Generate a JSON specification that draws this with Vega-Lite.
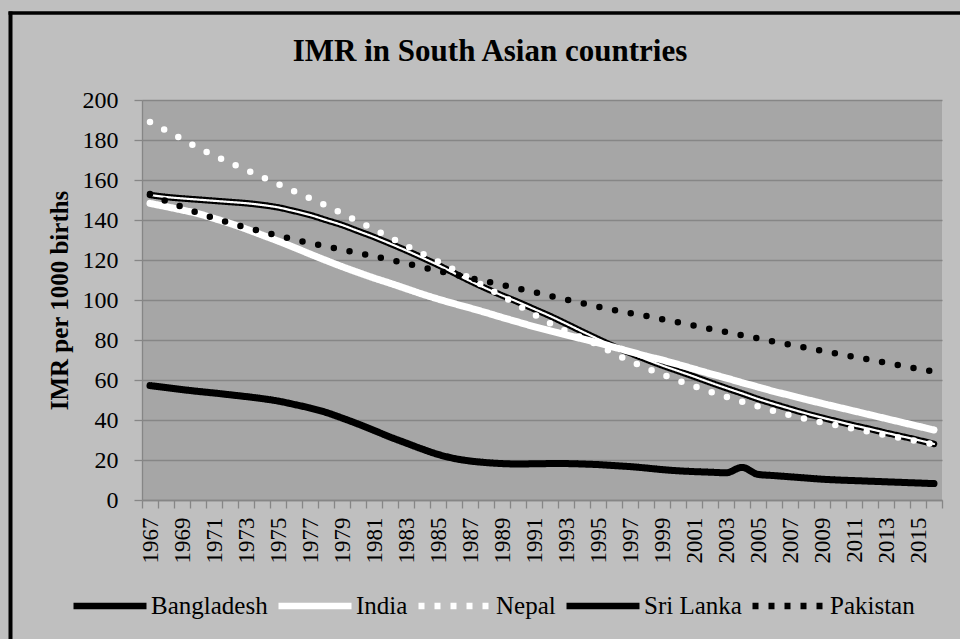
{
  "$schema": "https://vega.github.io/schema/vega-lite/v6.json",
  "autosize": {"type": "none"},
  "width": 800,
  "height": 400,
  "padding": {"left": 142, "top": 100, "right": 18, "bottom": 139},
  "background": "#bfbfbf",
  "config": {
    "font": "Liberation Serif",
    "view": {"fill": "#a6a6a6", "stroke": null},
    "axis": {"labelColor": "black", "titleColor": "black", "labelFont": "Liberation Serif", "titleFont": "Liberation Serif"}
  },
  "title": {"text": "IMR in South Asian countries", "font": "Liberation Serif", "fontSize": 31, "fontWeight": "bold", "color": "black", "anchor": "middle", "dx": -52, "offset": 22, "dy": 77},
  "data": {"values": [
    {"year": 1967, "Bangladesh": 152.5, "India": 148.3, "Nepal": 189, "Sri Lanka": 57.2, "Pakistan": 153},
    {"year": 1968, "Bangladesh": 151.5, "India": 146.7, "Nepal": 184.8, "Sri Lanka": 56.2, "Pakistan": 149.5},
    {"year": 1969, "Bangladesh": 150.8, "India": 145, "Nepal": 180.5, "Sri Lanka": 55.2, "Pakistan": 146.5},
    {"year": 1970, "Bangladesh": 150.2, "India": 143.2, "Nepal": 176.2, "Sri Lanka": 54.3, "Pakistan": 143.6},
    {"year": 1971, "Bangladesh": 149.6, "India": 140.8, "Nepal": 172.3, "Sri Lanka": 53.5, "Pakistan": 141},
    {"year": 1972, "Bangladesh": 149, "India": 138.3, "Nepal": 168.6, "Sri Lanka": 52.6, "Pakistan": 138.5},
    {"year": 1973, "Bangladesh": 148.4, "India": 135.5, "Nepal": 165, "Sri Lanka": 51.7, "Pakistan": 136.2},
    {"year": 1974, "Bangladesh": 147.5, "India": 132.5, "Nepal": 161.5, "Sri Lanka": 50.7, "Pakistan": 134.2},
    {"year": 1975, "Bangladesh": 146.3, "India": 129.5, "Nepal": 158, "Sri Lanka": 49.5, "Pakistan": 132.2},
    {"year": 1976, "Bangladesh": 144.5, "India": 126.3, "Nepal": 154.4, "Sri Lanka": 47.8, "Pakistan": 130.2},
    {"year": 1977, "Bangladesh": 142.5, "India": 123, "Nepal": 150.8, "Sri Lanka": 46, "Pakistan": 128.4},
    {"year": 1978, "Bangladesh": 140, "India": 119.8, "Nepal": 147.2, "Sri Lanka": 43.8, "Pakistan": 126.8},
    {"year": 1979, "Bangladesh": 137.5, "India": 116.7, "Nepal": 143.3, "Sri Lanka": 41, "Pakistan": 125.2},
    {"year": 1980, "Bangladesh": 134.5, "India": 113.8, "Nepal": 139.3, "Sri Lanka": 38, "Pakistan": 123.5},
    {"year": 1981, "Bangladesh": 131.5, "India": 111, "Nepal": 135.3, "Sri Lanka": 34.8, "Pakistan": 121.8},
    {"year": 1982, "Bangladesh": 128.2, "India": 108.4, "Nepal": 131.3, "Sri Lanka": 31.5, "Pakistan": 120.1},
    {"year": 1983, "Bangladesh": 124.8, "India": 105.7, "Nepal": 127.2, "Sri Lanka": 28.5, "Pakistan": 118.3},
    {"year": 1984, "Bangladesh": 121.2, "India": 103, "Nepal": 123.2, "Sri Lanka": 25.5, "Pakistan": 116.4},
    {"year": 1985, "Bangladesh": 117.5, "India": 100.5, "Nepal": 119.2, "Sri Lanka": 22.8, "Pakistan": 114.6},
    {"year": 1986, "Bangladesh": 113.5, "India": 98.2, "Nepal": 115.2, "Sri Lanka": 20.8, "Pakistan": 112.8},
    {"year": 1987, "Bangladesh": 109.5, "India": 96, "Nepal": 110.8, "Sri Lanka": 19.5, "Pakistan": 111},
    {"year": 1988, "Bangladesh": 105.8, "India": 93.7, "Nepal": 106.5, "Sri Lanka": 18.7, "Pakistan": 109.3},
    {"year": 1989, "Bangladesh": 102.3, "India": 91.3, "Nepal": 102, "Sri Lanka": 18.2, "Pakistan": 107.6},
    {"year": 1990, "Bangladesh": 99, "India": 89, "Nepal": 97.5, "Sri Lanka": 18, "Pakistan": 105.8},
    {"year": 1991, "Bangladesh": 95.5, "India": 86.7, "Nepal": 92.8, "Sri Lanka": 18.1, "Pakistan": 104},
    {"year": 1992, "Bangladesh": 92, "India": 84.6, "Nepal": 88.4, "Sri Lanka": 18.2, "Pakistan": 102.1},
    {"year": 1993, "Bangladesh": 88.2, "India": 82.6, "Nepal": 84.5, "Sri Lanka": 18.2, "Pakistan": 100.3},
    {"year": 1994, "Bangladesh": 84.3, "India": 80.6, "Nepal": 81.2, "Sri Lanka": 18, "Pakistan": 98.5},
    {"year": 1995, "Bangladesh": 80.5, "India": 78.6, "Nepal": 77.5, "Sri Lanka": 17.7, "Pakistan": 96.7},
    {"year": 1996, "Bangladesh": 76.8, "India": 76.4, "Nepal": 73.2, "Sri Lanka": 17.2, "Pakistan": 95},
    {"year": 1997, "Bangladesh": 73.5, "India": 74.2, "Nepal": 69.5, "Sri Lanka": 16.7, "Pakistan": 93.4},
    {"year": 1998, "Bangladesh": 70.3, "India": 72, "Nepal": 66, "Sri Lanka": 16, "Pakistan": 92},
    {"year": 1999, "Bangladesh": 67.3, "India": 70, "Nepal": 62.8, "Sri Lanka": 15.2, "Pakistan": 90.4},
    {"year": 2000, "Bangladesh": 64.5, "India": 67.8, "Nepal": 59.8, "Sri Lanka": 14.6, "Pakistan": 88.8},
    {"year": 2001, "Bangladesh": 61.7, "India": 65.5, "Nepal": 56.9, "Sri Lanka": 14.2, "Pakistan": 87.2},
    {"year": 2002, "Bangladesh": 58.8, "India": 63.2, "Nepal": 54.2, "Sri Lanka": 13.9, "Pakistan": 85.6},
    {"year": 2003, "Bangladesh": 56, "India": 61, "Nepal": 51.6, "Sri Lanka": 13.6, "Pakistan": 84},
    {"year": 2004, "Bangladesh": 53.3, "India": 58.7, "Nepal": 49.2, "Sri Lanka": 16.3, "Pakistan": 82.4},
    {"year": 2005, "Bangladesh": 50.5, "India": 56.5, "Nepal": 46.8, "Sri Lanka": 12.8, "Pakistan": 80.8},
    {"year": 2006, "Bangladesh": 48, "India": 54.3, "Nepal": 44.5, "Sri Lanka": 12.2, "Pakistan": 79.2},
    {"year": 2007, "Bangladesh": 45.6, "India": 52.3, "Nepal": 42.4, "Sri Lanka": 11.6, "Pakistan": 77.6},
    {"year": 2008, "Bangladesh": 43.3, "India": 50.3, "Nepal": 40.5, "Sri Lanka": 11, "Pakistan": 76.1},
    {"year": 2009, "Bangladesh": 41.2, "India": 48.3, "Nepal": 38.8, "Sri Lanka": 10.4, "Pakistan": 74.6},
    {"year": 2010, "Bangladesh": 39.2, "India": 46.4, "Nepal": 37.2, "Sri Lanka": 10, "Pakistan": 73.1},
    {"year": 2011, "Bangladesh": 37.3, "India": 44.5, "Nepal": 35.6, "Sri Lanka": 9.7, "Pakistan": 71.6},
    {"year": 2012, "Bangladesh": 35.5, "India": 42.6, "Nepal": 34, "Sri Lanka": 9.4, "Pakistan": 70.1},
    {"year": 2013, "Bangladesh": 33.6, "India": 40.7, "Nepal": 32.4, "Sri Lanka": 9.1, "Pakistan": 68.6},
    {"year": 2014, "Bangladesh": 31.8, "India": 38.8, "Nepal": 30.8, "Sri Lanka": 8.8, "Pakistan": 67.1},
    {"year": 2015, "Bangladesh": 30, "India": 36.9, "Nepal": 29.3, "Sri Lanka": 8.5, "Pakistan": 65.6},
    {"year": 2016, "Bangladesh": 28, "India": 35, "Nepal": 27.8, "Sri Lanka": 8.2, "Pakistan": 64.2}
  ]},
  "layer": [
    {
      "transform": [{"fold": ["Bangladesh", "India", "Nepal", "Sri Lanka", "Pakistan"], "as": ["country", "imr"]}],
      "encoding": {
        "x": {"field": "year", "type": "quantitative",
          "scale": {"domain": [1966.5, 2016.5], "nice": false, "zero": false},
          "axis": {"values": [1966.5,1967.5,1968.5,1969.5,1970.5,1971.5,1972.5,1973.5,1974.5,1975.5,1976.5,1977.5,1978.5,1979.5,1980.5,1981.5,1982.5,1983.5,1984.5,1985.5,1986.5,1987.5,1988.5,1989.5,1990.5,1991.5,1992.5,1993.5,1994.5,1995.5,1996.5,1997.5,1998.5,1999.5,2000.5,2001.5,2002.5,2003.5,2004.5,2005.5,2006.5,2007.5,2008.5,2009.5,2010.5,2011.5,2012.5,2013.5,2014.5,2015.5,2016.5],
            "labelExpr": "datum.value < 2016 && (datum.value - 1966.5) % 2 == 0 ? '' + (datum.value + 0.5) : ''",
            "labelAngle": -90, "labelAlign": "right", "labelBaseline": "middle", "labelOffset": 8, "labelPadding": 9,
            "labelOverlap": false, "labelFlush": false, "labelBound": false, "labelFontSize": 23,
            "tickSize": 8, "tickColor": "#868686", "tickWidth": 1.3, "domainColor": "#868686", "domainWidth": 1.3,
            "grid": false, "title": null}},
        "y": {"field": "imr", "type": "quantitative",
          "scale": {"domain": [0, 200], "nice": false},
          "axis": {"values": [0,20,40,60,80,100,120,140,160,180,200], "labelFontSize": 24, "labelPadding": 16,
            "tickSize": 8, "tickColor": "#868686", "tickWidth": 1.3, "domainColor": "#868686", "domainWidth": 1.3,
            "grid": true, "gridColor": "#868686", "gridWidth": 1.3,
            "title": "IMR per 1000 births", "titleFontSize": 25, "titleFontWeight": "bold", "titlePadding": 10}},
        "color": {"field": "country", "type": "nominal",
          "scale": {"domain": ["Bangladesh", "India", "Nepal", "Sri Lanka", "Pakistan"], "range": ["black", "white", "white", "black", "black"]},
          "legend": {"orient": "none", "legendX": -72, "legendY": 466, "direction": "horizontal", "columns": 5, "title": null,
            "symbolType": "stroke", "symbolSize": 5329, "symbolStrokeWidth": 6.5,
            "labelFontSize": 25, "labelFont": "Liberation Serif", "labelColor": "black", "labelOffset": 1, "columnPadding": -3}},
        "strokeDash": {"field": "country", "type": "nominal",
          "scale": {"domain": ["Bangladesh", "India", "Nepal", "Sri Lanka", "Pakistan"], "range": [[1, 0], [1, 0], [6, 10], [1, 0], [6, 10]]},
          "legend": {"orient": "none", "legendX": -72, "legendY": 466, "direction": "horizontal", "columns": 5, "title": null,
            "symbolType": "stroke", "symbolSize": 5329, "symbolStrokeWidth": 6.5,
            "labelFontSize": 25, "labelFont": "Liberation Serif", "labelColor": "black", "labelOffset": 1, "columnPadding": -3}}
      },
      "layer": [
        {"transform": [{"filter": "datum.country === 'Bangladesh'"}], "mark": {"type": "line", "interpolate": "monotone", "strokeWidth": 6.5, "strokeCap": "round"}},
        {"transform": [{"filter": "datum.country === 'Bangladesh'"}], "mark": {"type": "line", "interpolate": "monotone", "strokeWidth": 2.2, "strokeCap": "round"}, "encoding": {"color": {"value": "white"}, "strokeDash": {"value": [1, 0]}}},
        {"transform": [{"filter": "datum.country === 'India'"}], "mark": {"type": "line", "interpolate": "monotone", "strokeWidth": 7, "strokeCap": "round"}},
        {"transform": [{"filter": "datum.country === 'Nepal'"}], "mark": {"type": "line", "interpolate": "monotone", "strokeWidth": 6.5, "strokeCap": "round"}, "encoding": {"strokeDash": {"value": [0, 16]}}},
        {"transform": [{"filter": "datum.country === 'Sri Lanka'"}], "mark": {"type": "line", "interpolate": "monotone", "strokeWidth": 7, "strokeCap": "round"}},
        {"transform": [{"filter": "datum.country === 'Pakistan'"}], "mark": {"type": "line", "interpolate": "monotone", "strokeWidth": 6.5, "strokeCap": "round"}, "encoding": {"strokeDash": {"value": [0, 16]}}}
      ]
    },
    {
      "data": {"values": [{"f": 0}]},
      "mark": {"type": "point", "opacity": 0},
      "encoding": {
        "x": {"field": "f", "type": "quantitative", "scale": {"domain": [0, 1], "range": [-134, 830]},
          "axis": {"orient": "top", "offset": 87.5, "domainColor": "black", "domainWidth": 3.5, "ticks": false, "labels": false, "grid": false, "title": null}},
        "y": {"field": "f", "type": "quantitative", "scale": {"domain": [0, 1], "range": [560, -89]},
          "axis": {"orient": "right", "offset": -932, "domainColor": "black", "domainWidth": 4, "ticks": false, "labels": false, "grid": false, "title": null}}
      }
    }
  ],
  "resolve": {"scale": {"x": "independent", "y": "independent"}, "axis": {"x": "independent", "y": "independent"}}
}
